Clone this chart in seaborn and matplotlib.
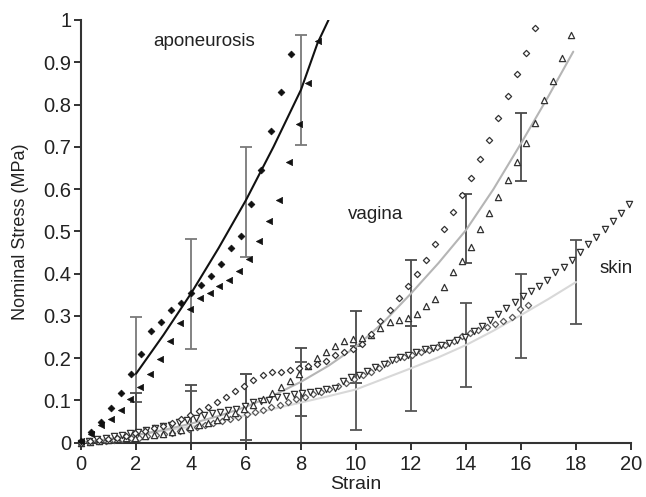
import numpy as np
import pandas as pd
import seaborn as sns
import matplotlib
matplotlib.use("Agg")
import matplotlib.pyplot as plt

# ---- data ----
# aponeurosis
apo_dia_y = [0.005, 0.025, 0.05, 0.083, 0.117, 0.163, 0.21, 0.265, 0.285, 0.313, 0.33,
             0.353, 0.372, 0.394, 0.422, 0.46, 0.489, 0.565, 0.645, 0.737, 0.83, 0.919]
apo_dia_x = np.linspace(0, 7.64, len(apo_dia_y))
apo_tri_y = [0.003, 0.02, 0.042, 0.057, 0.077, 0.103, 0.131, 0.163, 0.199, 0.24, 0.282,
             0.316, 0.343, 0.355, 0.371, 0.385, 0.407, 0.434, 0.478, 0.525, 0.574, 0.664,
             0.753, 0.851, 0.951]
apo_tri_x = np.linspace(0, 8.63, len(apo_tri_y))
apo_fit_x = [2, 3, 4, 5, 6, 7, 8, 8.6, 9.0]
apo_fit_y = [0.163, 0.255, 0.353, 0.46, 0.574, 0.70, 0.835, 0.945, 1.0]

# vagina
vag_dia_y = [0.0, 0.003, 0.006, 0.009, 0.012, 0.015, 0.022, 0.028, 0.034, 0.04, 0.046,
             0.055, 0.065, 0.074, 0.084, 0.096, 0.108, 0.123, 0.135, 0.148, 0.16, 0.167,
             0.168, 0.171, 0.176, 0.182, 0.187, 0.193, 0.207, 0.214, 0.222, 0.233, 0.258,
             0.287, 0.315, 0.343, 0.371, 0.4, 0.433, 0.47, 0.506, 0.545, 0.587, 0.627,
             0.67, 0.715, 0.767, 0.82, 0.872, 0.923, 0.98]
vag_dia_x = np.linspace(0, 16.5, len(vag_dia_y))
vag_tri_y = [0.0, 0.002, 0.004, 0.006, 0.008, 0.01, 0.012, 0.015, 0.018, 0.021, 0.025,
             0.03, 0.036, 0.041, 0.047, 0.054, 0.062, 0.07, 0.08, 0.09, 0.103, 0.117,
             0.131, 0.147, 0.163, 0.182, 0.2, 0.215, 0.229, 0.241, 0.245, 0.247, 0.255,
             0.271, 0.285, 0.29, 0.294, 0.304, 0.324, 0.34, 0.368, 0.403, 0.43, 0.464,
             0.505, 0.543, 0.582, 0.621, 0.665, 0.708, 0.756, 0.81, 0.856, 0.909, 0.965]
vag_tri_x = np.linspace(0, 17.82, len(vag_tri_y))
vag_fit_x = [0, 1, 2, 3, 4, 5, 6, 7, 8, 9, 10, 11, 12, 13, 14, 15, 16, 17, 17.9]
vag_fit_y = [0.0, 0.008, 0.018, 0.03, 0.045, 0.063, 0.085, 0.112, 0.144, 0.182, 0.227,
             0.285, 0.353, 0.425, 0.503, 0.6, 0.708, 0.82, 0.925]

# skin
skin_tri_y = [0.0, 0.004, 0.008, 0.011, 0.015, 0.019, 0.022, 0.026, 0.03, 0.034, 0.039,
              0.043, 0.048, 0.053, 0.059, 0.066, 0.071, 0.073, 0.078, 0.08, 0.087, 0.096,
              0.099, 0.102, 0.109, 0.11, 0.114, 0.117, 0.119, 0.122, 0.126, 0.13, 0.145,
              0.155, 0.16, 0.169, 0.179, 0.186, 0.196, 0.202, 0.207, 0.215, 0.221, 0.225,
              0.23, 0.236, 0.243, 0.25, 0.264, 0.277, 0.29, 0.305, 0.319, 0.332, 0.347,
              0.359, 0.371, 0.385, 0.403, 0.415, 0.432, 0.451, 0.469, 0.487, 0.505, 0.524,
              0.543, 0.564]
skin_tri_x = np.linspace(0, 19.93, len(skin_tri_y))
skin_dia_y = [0.0, 0.002, 0.003, 0.005, 0.006, 0.008, 0.01, 0.012, 0.015, 0.018, 0.021,
              0.024, 0.028, 0.032, 0.036, 0.041, 0.046, 0.051, 0.056, 0.061, 0.067, 0.072,
              0.078, 0.084, 0.09, 0.097, 0.103, 0.108, 0.114, 0.12, 0.127, 0.135, 0.142,
              0.15, 0.16, 0.168, 0.177, 0.188, 0.197, 0.203, 0.208, 0.214, 0.22, 0.226,
              0.232, 0.24, 0.252, 0.26, 0.267, 0.274, 0.28, 0.289, 0.297, 0.317, 0.326]
skin_dia_x = np.linspace(0, 16.26, len(skin_dia_y))
skin_fit_x = [0, 1, 2, 3, 4, 5, 6, 7, 8, 9, 10, 11, 12, 13, 14, 15, 16, 17, 18]
skin_fit_y = [0.0, 0.009, 0.018, 0.028, 0.038, 0.05, 0.065, 0.08, 0.095, 0.11, 0.126,
              0.151, 0.176, 0.202, 0.231, 0.265, 0.302, 0.34, 0.38]

# error bars (mean +- sd)
apo_err_x = [2, 4, 6, 8]
apo_err_m = [0.163, 0.351, 0.569, 0.835]
apo_err_sd = [0.135, 0.13, 0.13, 0.13]
vag_err_x = [2, 4, 6, 8, 10, 12, 14, 16]
vag_err_m = [0.02, 0.045, 0.085, 0.144, 0.227, 0.353, 0.507, 0.70]
vag_err_sd = [0.097, 0.092, 0.078, 0.08, 0.085, 0.078, 0.081, 0.08]
skin_err_x = [2, 4, 6, 8, 10, 12, 14, 16, 18]
skin_err_m = [0.018, 0.038, 0.063, 0.095, 0.129, 0.176, 0.231, 0.30, 0.38]
skin_err_sd = [0.079, 0.085, 0.1, 0.097, 0.1, 0.1, 0.1, 0.1, 0.1]

x_ticks = list(range(0, 21, 2))
y_ticks = [0, 0.1, 0.2, 0.3, 0.4, 0.5, 0.6, 0.7, 0.8, 0.9, 1]
y_ticklabels = ["0", "0.1", "0.2", "0.3", "0.4", "0.5", "0.6", "0.7", "0.8", "0.9", "1"]

sns.set_style("ticks")
plt.rcParams['font.family'] = ['Liberation Sans', 'DejaVu Sans']

fig = plt.figure(figsize=(6.46, 4.97), dpi=100)
ax = fig.add_axes([0.1254, 0.1093, 0.8514, 0.8505])

# error bars
ax.errorbar(apo_err_x, apo_err_m, yerr=apo_err_sd, fmt='none', ecolor='#7a7a7a',
            elinewidth=1.3, capsize=4, capthick=1.3, zorder=2)
ax.errorbar(vag_err_x, vag_err_m, yerr=vag_err_sd, fmt='none', ecolor='#4a4a4a',
            elinewidth=1.3, capsize=4, capthick=1.3, zorder=2)
ax.errorbar(skin_err_x, skin_err_m, yerr=skin_err_sd, fmt='none', ecolor='#555555',
            elinewidth=1.3, capsize=4, capthick=1.3, zorder=2)

# fitted curves
sns.lineplot(x=skin_fit_x, y=skin_fit_y, color='#d8d8d8', lw=1.5, ax=ax, zorder=3)
sns.lineplot(x=vag_fit_x, y=vag_fit_y, color='#b5b5b5', lw=1.5, ax=ax, zorder=3)
sns.lineplot(x=apo_fit_x, y=apo_fit_y, color='#111111', lw=1.5, ax=ax, zorder=3)

# measured points
sns.scatterplot(x=skin_dia_x, y=skin_dia_y, marker='D', s=10, facecolor='white',
                edgecolor='#5a5a5a', linewidth=0.9, ax=ax, zorder=4, clip_on=False)
sns.scatterplot(x=skin_tri_x, y=skin_tri_y, marker='v', s=20, facecolor='white',
                edgecolor='#333333', linewidth=0.9, ax=ax, zorder=4, clip_on=False)
sns.scatterplot(x=vag_tri_x, y=vag_tri_y, marker='^', s=20, facecolor='white',
                edgecolor='#333333', linewidth=0.9, ax=ax, zorder=4, clip_on=False)
sns.scatterplot(x=vag_dia_x, y=vag_dia_y, marker='D', s=10, facecolor='white',
                edgecolor='#333333', linewidth=0.9, ax=ax, zorder=4, clip_on=False)
sns.scatterplot(x=apo_tri_x, y=apo_tri_y, marker='<', s=20, color='#111111',
                edgecolor='#111111', linewidth=0.5, ax=ax, zorder=5, clip_on=False)
sns.scatterplot(x=apo_dia_x, y=apo_dia_y, marker='D', s=12, color='#111111',
                edgecolor='#111111', linewidth=0.5, ax=ax, zorder=5, clip_on=False)

ax.text(2.62, 0.948, "aponeurosis", fontsize=13.5, va='center', ha='left', color='#222222')
ax.text(9.71, 0.539, "vagina", fontsize=13.5, va='center', ha='left', color='#222222')
ax.text(18.84, 0.413, "skin", fontsize=13.5, va='center', ha='left', color='#222222')

ax.set_xlim(0, 20)
ax.set_ylim(0, 1)
ax.set_xticks(x_ticks)
ax.set_yticks(y_ticks)
ax.set_yticklabels(y_ticklabels)
ax.tick_params(axis='both', labelsize=14.5, colors='#222222', length=5, width=1.3,
               direction='out')
ax.tick_params(axis='x', pad=4)
ax.tick_params(axis='y', pad=2)
ax.set_xlabel("Strain", fontsize=14, labelpad=1, color='#222222')
ax.set_ylabel("Nominal Stress (MPa)", fontsize=13, labelpad=10, color='#222222')
for side in ['top', 'right']:
    ax.spines[side].set_visible(False)
for side in ['left', 'bottom']:
    ax.spines[side].set_linewidth(1.5)
    ax.spines[side].set_color('#333333')

fig.savefig("out.png", dpi=100)
